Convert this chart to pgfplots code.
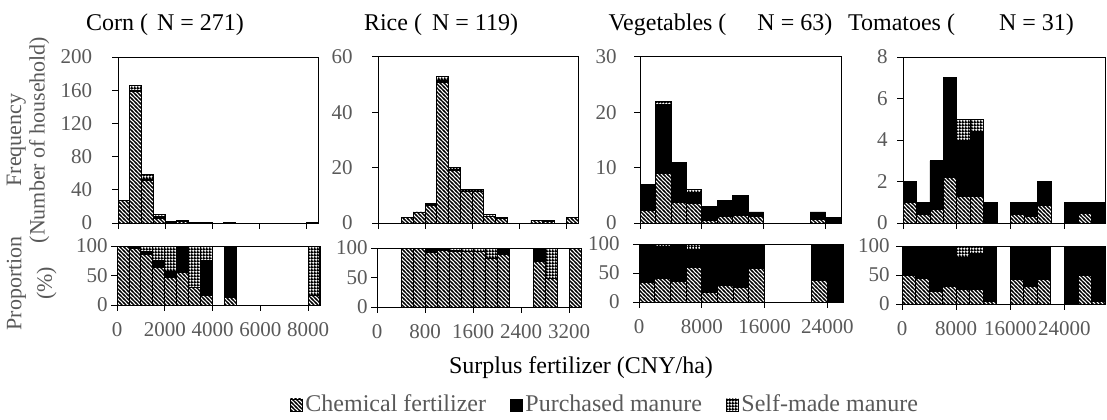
\documentclass[border=0pt]{standalone}
\usepackage{fontspec}
\setmainfont{Liberation Serif}
\usepackage{pgfplots}
\pgfplotsset{compat=1.18}
\usepackage{pgfplotstable}
\usetikzlibrary{patterns}
\definecolor{tgray}{RGB}{89,89,89}

\pgfdeclarepatternformonly{fdiag}{\pgfqpoint{-1pt}{-1pt}}{\pgfqpoint{3pt}{3pt}}{\pgfqpoint{2pt}{2pt}}{%
  \pgfsetlinewidth{0.6pt}%
  \pgfpathmoveto{\pgfqpoint{-0.5pt}{2.5pt}}%
  \pgfpathlineto{\pgfqpoint{2.5pt}{-0.5pt}}%
  \pgfusepath{stroke}}
\pgfdeclarepatternformonly{fcheck}{\pgfqpoint{0pt}{0pt}}{\pgfqpoint{1.6pt}{1.6pt}}{\pgfqpoint{1.6pt}{1.6pt}}{%
  \pgfpathrectangle{\pgfqpoint{0pt}{0pt}}{\pgfqpoint{1.6pt}{0.8pt}}%
  \pgfpathrectangle{\pgfqpoint{0pt}{0.8pt}}{\pgfqpoint{0.8pt}{0.8pt}}%
  \pgfusepath{fill}}

\pgfplotsset{
  sqlegend/.style={legend image code/.code={\draw[##1] (0pt,-3pt) rectangle (6pt,3pt);}},
  chem/.style={draw=black, line width=0.4pt, pattern=fdiag, sqlegend},
  purch/.style={draw=black, line width=0.4pt, fill=black, sqlegend},
  selfm/.style={draw=black, line width=0.4pt, pattern=fcheck, sqlegend},
  base/.style={scale only axis, anchor=south west, clip=false,
    ybar stacked, ymin=0,
    scaled x ticks=false, scaled y ticks=false,
    axis line style={line width=0.5pt},
    tick align=outside, xtick pos=left, ytick pos=left,
    major tick length=2.8pt, tick style={black, line width=0.5pt},
    ticklabel style={font=\fontsize{10.5}{12}\selectfont, text=tgray},
    /pgf/number format/assume math mode=true,
    /pgf/number format/1000 sep={},
    title style={font=\fontsize{12}{14}\selectfont, anchor=center, yshift=-6pt},
    yticklabel style={anchor=east, inner sep=0pt},
    xticklabel style={anchor=north, inner sep=0pt, yshift=-6pt},
  },
  top/.style={base, height=83pt, xticklabels={}},
  bot/.style={base, height=29.5pt, ymax=100, ytick={0,50,100}},
}

\pgfplotstableread{
x c p s pc pp ps
250 27 0 0 100 0 0
750 158 2 6 96 1 3
1250 51 2 5 86 5 9
1750 6 1.5 2.5 63 12 25
2250 0.9 0.2 0.9 47 10 43
2750 1.65 1.35 0 55 45 0
3250 0.3 0 0.7 30 0 70
3750 0.17 0.58 0.25 17 58 25
4750 0.13 0.87 0 13 87 0
8250 0.16 0 0.84 16 0 84
}\corn

\pgfplotstableread{
x c p s pc pp ps
500 2 0 0 100 0 0
700 4 0 0 100 0 0
900 6.4 0.6 0 92 8 0
1100 51 0.6 1.4 96 1.5 2.5
1300 19 0.3 0.7 95 1.5 3.5
1500 11.4 0 0.6 95 0 5
1700 11.3 0 0.7 94 0 6
1900 2.5 0 0.5 82 0 18
2100 1.8 0.2 0 90 10 0
2700 0.78 0.22 0 78 22 0
2900 0.48 0 0.52 48 0 52
3300 2 0 0 100 0 0
}\rice

\pgfplotstableread{
x c p s pc pp ps
1000 2.3 4.7 0 34 66 0
3000 9 12.4 0.6 41 55 4
5000 3.8 7.2 0 35 65 0
7000 3.6 1.9 0.5 60 31 9
9000 0.5 2.4 0.1 16 81 3
11000 1.2 2.8 0 29 71 0
13000 1.3 3.7 0 26 74 0
15000 1.2 0.8 0 58 42 0
23000 0.7 1.3 0 37 63 0
25000 0 1 0 0 100 0
}\veg

\pgfplotstableread{
x c p s pc pp ps
1000 1 1 0 50 50 0
3000 0.4 0.6 0 44 56 0
5000 0.65 2.35 0 22 78 0
7000 2.2 4.8 0 31 69 0
9000 1.3 2.7 1 26 54 20
11000 1.3 3.1 0.6 26 61 13
13000 0.05 0.95 0 4 96 0
17000 0.4 0.6 0 42 58 0
19000 0.3 0.7 0 30 70 0
21000 0.83 1.17 0 42 58 0
25000 0 1 0 0 100 0
27000 0.45 0.55 0 50 50 0
29000 0.04 0.96 0 4 96 0
}\tom

\begin{document}
\begin{tikzpicture}
\useasboundingbox (0,0) rectangle (553.5pt,209.5pt);

% ---------- Corn ----------
\begin{axis}[top, at={(59pt,98pt)}, width=100pt,
  xmin=0, xmax=8500, ymax=200, ytick={0,40,...,200}, xtick={0,2000,...,8000},
  bar width=500, yticklabel style={xshift=-10pt},
  title={Corn (\hspace{4.5pt}N = 271)}, title style={at={(axis description cs:0.235,1.194)}},
  ylabel={Frequency\\(Number of household)},
  ylabel style={at={(axis description cs:-0.45,0.5)}, anchor=center, align=center,
    font=\fontsize{11}{11.75}\selectfont, text=tgray}]
\addplot[chem] table[x=x,y=c]{\corn};
\addplot[purch] table[x=x,y=p]{\corn};
\addplot[selfm] table[x=x,y=s]{\corn};
\end{axis}
\begin{axis}[bot, at={(58.5pt,57pt)}, width=101.5pt,
  xmin=0, xmax=8500, xtick={0,2000,...,8000}, bar width=500,
  yticklabel style={xshift=-1.7pt},
  ylabel={Proportion\\[3.5pt](\%)},
  ylabel style={at={(axis description cs:-0.42,0.37)}, anchor=center, align=center,
    font=\fontsize{11}{11.75}\selectfont, text=tgray}]
\addplot[chem] table[x=x,y=pc]{\corn};
\addplot[purch] table[x=x,y=pp]{\corn};
\addplot[selfm] table[x=x,y=ps]{\corn};
\end{axis}

% ---------- Rice ----------
\begin{axis}[top, at={(189pt,98pt)}, width=100pt,
  xmin=0, xmax=3400, ymax=60, ytick={0,20,40,60}, xtick={0,800,...,3200},
  bar width=200, yticklabel style={xshift=-9.7pt},
  title={Rice (\hspace{5pt}N = 119)}, title style={at={(axis description cs:0.315,1.194)}}]
\addplot[chem] table[x=x,y=c]{\rice};
\addplot[purch] table[x=x,y=p]{\rice};
\addplot[selfm] table[x=x,y=s]{\rice};
\end{axis}
\begin{axis}[bot, at={(188.5pt,56pt)}, width=102pt,
  xmin=0, xmax=3400, xtick={0,800,...,3200}, bar width=200,
  yticklabel style={xshift=-1.7pt},
  xlabel={Surplus fertilizer (CNY/ha)},
  xlabel style={at={(axis description cs:1.0,-1.03)}, anchor=center,
    font=\fontsize{12}{14}\selectfont, text=black},
  legend columns=3,
  legend style={at={(axis description cs:1.118,-1.66)}, anchor=center, draw=none, fill=none,
    font=\fontsize{12}{14}\selectfont, text=tgray, nodes={inner sep=1pt},
    /tikz/every odd column/.append style={column sep=0.3pt},
    /tikz/every even column/.append style={column sep=11pt}}]
\addplot[chem] table[x=x,y=pc]{\rice};
\addlegendentry{Chemical fertilizer}
\addplot[purch] table[x=x,y=pp]{\rice};
\addlegendentry{Purchased manure}
\addplot[selfm] table[x=x,y=ps]{\rice};
\addlegendentry{Self-made manure}
\end{axis}

% ---------- Vegetables ----------
\begin{axis}[top, at={(320pt,98pt)}, width=100.5pt,
  xmin=0, xmax=26000, ymax=30, ytick={0,10,20,30}, xtick={0,8000,16000,24000},
  bar width=2000, yticklabel style={xshift=-8.7pt},
  title={Vegetables (\hspace{15.5pt}N = 63)}, title style={at={(axis description cs:0.40,1.194)}}]
\addplot[chem] table[x=x,y=c]{\veg};
\addplot[purch] table[x=x,y=p]{\veg};
\addplot[selfm] table[x=x,y=s]{\veg};
\end{axis}
\begin{axis}[bot, at={(319.5pt,58.5pt)}, width=102pt, height=29pt,
  xmin=0, xmax=26000, xtick={0,8000,16000,24000}, bar width=2000,
  yticklabel style={xshift=-6.7pt}]
\addplot[chem] table[x=x,y=pc]{\veg};
\addplot[purch] table[x=x,y=pp]{\veg};
\addplot[selfm] table[x=x,y=ps]{\veg};
\end{axis}

% ---------- Tomatoes ----------
\begin{axis}[top, at={(451.5pt,98pt)}, width=101pt,
  xmin=0, xmax=30000, ymax=8, ytick={0,2,...,8}, xtick={0,8000,16000,24000},
  bar width=2000, yticklabel style={xshift=-4.7pt},
  title={Tomatoes (\hspace{22pt}N = 31)}, title style={at={(axis description cs:0.287,1.194)}}]
\addplot[chem] table[x=x,y=c]{\tom};
\addplot[purch] table[x=x,y=p]{\tom};
\addplot[selfm] table[x=x,y=s]{\tom};
\end{axis}
\begin{axis}[bot, at={(451pt,57.5pt)}, width=101.5pt, height=29pt,
  xmin=0, xmax=30000, xtick={0,8000,16000,24000}, bar width=2000,
  yticklabel style={xshift=-3.2pt}]
\addplot[chem] table[x=x,y=pc]{\tom};
\addplot[purch] table[x=x,y=pp]{\tom};
\addplot[selfm] table[x=x,y=ps]{\tom};
\end{axis}
\end{tikzpicture}
\end{document}
